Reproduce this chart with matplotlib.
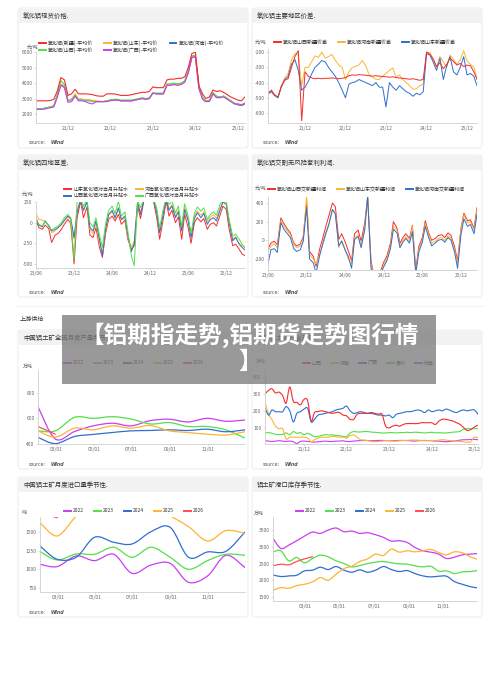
import numpy as np
import pandas as pd
import matplotlib
matplotlib.use('Agg')
import matplotlib.pyplot as plt
import matplotlib.dates as mdates
from matplotlib.patches import FancyBboxPatch, Rectangle, PathPatch
from matplotlib.path import Path
from matplotlib.lines import Line2D

plt.rcParams['font.family'] = ['Noto Sans CJK SC', 'DejaVu Sans']
plt.rcParams['axes.unicode_minus'] = False

# ── 1. 氧化铝现货价格 (monthly, 2021-03 .. 2026-02) ─────────────
price_xinjiang = [2850, 2850, 2850, 2850, 2870, 2950, 3500, 4350, 4200, 3200,
                  3300, 3600, 3300, 3300, 3300, 3280, 3250, 3180, 3150, 3150, 3300, 3300,
                  3300, 3250, 3200, 3200, 3200, 3250, 3300, 3350, 3400, 3400, 3450, 3750,
                  3700, 3700, 3700, 4200, 4250, 4250, 4300, 4300, 4400, 5000, 5900, 6000,
                  3800, 3300, 3000, 3100, 3550, 3450, 3500, 3400, 3250, 3100, 3000, 2900,
                  2850, 3100]
price_shandong = [2350, 2350, 2350, 2400, 2450, 2500, 3200, 3950, 3800, 2900,
                  2950, 3300, 2950, 2950, 2900, 2900, 2880, 2850, 2820, 2800, 2850, 2900,
                  2900, 2900, 2850, 2850, 2850, 2850, 2900, 2950, 3000, 2950, 3000, 3350,
                  3300, 3300, 3300, 3900, 3900, 3950, 3900, 3950, 4100, 4700, 5700, 5750,
                  3700, 3000, 2800, 2850, 3300, 3150, 3100, 3150, 3000, 2850, 2700, 2600,
                  2550, 2650]
price_henan = [2330, 2330, 2350, 2400, 2450, 2500, 3200, 3900, 3750, 2850,
               2950, 3250, 2950, 2950, 2900, 2900, 2850, 2800, 2800, 2800, 2850, 2900,
               2900, 2900, 2850, 2850, 2850, 2850, 2900, 2950, 3000, 2950, 3000, 3350,
               3300, 3300, 3300, 3900, 3900, 3900, 3900, 3950, 4100, 4700, 5650, 5700,
               3750, 3000, 2800, 2850, 3300, 3100, 3100, 3150, 3000, 2850, 2700, 2650,
               2600, 2700]
price_shanxi = [2350, 2350, 2350, 2400, 2450, 2550, 3300, 4150, 3900, 2850,
                2900, 3200, 2900, 2900, 2850, 2850, 2800, 2800, 2800, 2800, 2850, 2900,
                2950, 2950, 2900, 2900, 2900, 2900, 2950, 3000, 3050, 3000, 3050, 3350,
                3350, 3350, 3350, 3950, 3950, 4000, 3950, 4000, 4150, 4750, 5750, 5800,
                3800, 3100, 2850, 2900, 3400, 3150, 3100, 3150, 3000, 2850, 2700, 2600,
                2550, 2700]
price_guangxi = [2300, 2300, 2300, 2350, 2400, 2450, 3100, 3850, 3700, 2750,
                 2800, 3150, 2850, 2850, 2800, 2700, 2650, 2800, 2800, 2800, 2800, 2850,
                 2900, 2900, 2850, 2850, 2850, 2850, 2900, 2950, 3000, 2950, 3000, 3350,
                 3300, 3300, 3300, 3850, 3850, 3900, 3850, 3900, 4050, 4650, 5650, 5700,
                 3600, 2950, 2800, 2800, 3300, 3050, 3050, 3100, 2950, 2800, 2650, 2600,
                 2550, 2650]

# ── 2. 氧化铝主要地区价差 (monthly, 2021-01 .. 2026-03) ──────────
spread_shanxi = [-470, -450, -480, -495, -425, -385, -375, -300, -230, -190,
                 -650, -330, -360, -370, -375, -372, -375, -372, -372, -370,
                 -372, -375, -372, -368, -355, -350, -352, -348, -350, -352,
                 -355, -358, -355, -358, -360, -362, -365, -362, -368, -370,
                 -372, -375, -378, -375, -380, -385, -380, -200, -215, -250,
                 -295, -270, -310, -280, -240, -262, -285, -275, -295, -285,
                 -290, -330, -380]
spread_henan = [-470, -455, -480, -495, -420, -370, -340, -250, -210, -220,
                -420, -300, -300, -260, -225, -235, -200, -240, -230, -215,
                -255, -285, -300, -380, -330, -300, -295, -285, -255, -290,
                -345, -365, -378, -380, -360, -340, -320, -305, -365, -350,
                -380, -400, -420, -445, -440, -420, -410, -200, -205, -245,
                -300, -230, -265, -300, -220, -250, -280, -250, -190, -260,
                -280, -300, -370]
spread_shandong = [-475, -460, -485, -500, -430, -380, -360, -280, -250, -320,
                   -450, -430, -390, -340, -300, -280, -255, -265, -300, -330,
                   -360, -400, -450, -500, -410, -400, -395, -380, -390, -400,
                   -410, -420, -400, -430, -430, -560, -400, -430, -450, -420,
                   -440, -460, -470, -490, -470, -480, -460, -210, -220, -270,
                   -320, -240, -380, -290, -230, -330, -350, -300, -230, -350,
                   -340, -360, -420]

# ── 3. 氧化铝四地基差 (semi-monthly, 2023-06 .. 2026-03) ────────
basis_shandong = [30, -60, -80, -30, -70, -240, -150, -130, -80, -20,
                  40, -10, -500, 50, 260, 60, 190, -150, -180, -60,
                  -300, -420, -120, 40, 80, 20, 100, -20, 30, -200,
                  -320, -280, 200, 50, 270, 260, 290, 280, 60, -200,
                  40, 260, 80, 150, 0, 70, -200, 100, -60, -250,
                  0, 60, 10, 50, -80, -20, 0, -40, 90, 200,
                  160, -80, -280, -260, -320, -380, -400]
basis_henan = [110, 40, 30, 20, -30, -120, -100, -60, -30, 20,
               70, 40, -200, 150, 270, 140, 270, -80, -130, 0,
               -230, -380, -80, 90, 130, 50, 170, 30, 60, -180,
               -300, -220, 260, 120, 290, 280, 300, 300, 140, -130,
               110, 290, 170, 220, 80, 150, -90, 180, 40, -170,
               80, 140, 90, 130, 10, 70, 100, 50, 170, 260,
               230, 20, -200, -170, -250, -280, -300]
basis_shanxi = [50, -30, -50, 20, -40, -100, -80, -60, -20, 30,
                80, 50, -180, 120, 280, 150, 250, -60, -100, 20,
                -200, -400, -60, 100, 150, 60, 180, 40, 80, -150,
                -350, -250, 250, 100, 280, 270, 300, 290, 120, -120,
                100, 280, 150, 200, 60, 130, -100, 160, 20, -180,
                50, 120, 60, 110, -20, 40, 60, 20, 150, 250,
                220, 0, -220, -180, -260, -300, -330]
basis_guangxi = [60, -20, -40, 10, -30, -90, -60, -40, 0, 60,
                 100, 60, -450, 250, 290, 200, 280, 0, -50, 60,
                 -150, -300, 0, 150, 200, 110, 260, 80, 130, -100,
                 -400, -520, 270, 180, 300, 290, 300, 300, 180, -60,
                 160, 300, 220, 260, 120, 200, -40, 230, 80, -130,
                 110, 190, 140, 180, 40, 100, 130, 90, 220, 280,
                 260, 30, -160, -140, -200, -260, -300]

# ── 4. 氧化铝交割无风险套利利润 (semi-monthly, 2023-06 ..) ───────
arb_shanxi = [-90, -30, -10, -50, 240, 180, 120, 80, -30, -60,
              -40, 40, 420, -120, -170, -280, -90, 20, 150, 260,
              400, 360, 10, 70, -20, -110, -220, 70, 110, -10,
              180, 460, -220, -380, -360, -330, -230, -170, -30, 200,
              130, -30, 30, 70, 20, 160, -320, -70, 30, 210,
              80, 0, 20, 50, 60, 30, 80, 50, -70, -220,
              130, 290, 210, 220, 130, 350]
arb_shandong = [-120, -60, -40, -80, 210, 150, 100, 60, -50, -80,
                -60, 20, 480, -150, -200, -250, -150, -50, 60, 160,
                330, 300, -80, 0, -100, -200, -250, 20, 60, -60,
                130, 480, -250, -400, -380, -350, -260, -200, -60, 150,
                110, -60, 0, 40, -10, 150, -350, -100, 0, 180,
                60, -30, -10, 20, 30, 0, 50, 20, -100, -250,
                120, 270, 190, 200, 110, 320]
arb_henan = [-250, -100, -90, -130, 190, 120, 70, 30, -90, -120,
             -100, -10, 350, -200, -240, -350, -160, -40, 80, 170,
             330, 280, -60, -10, -110, -170, -300, 10, 40, -80,
             110, 470, -300, -400, -390, -360, -280, -220, -90, 120,
             80, -80, -20, 20, -30, 90, -360, -130, -20, 150,
             30, -60, -30, 0, 10, -20, 30, 0, -130, -300,
             60, 230, 150, 170, 70, 280]

# ── 5. 中国铝土矿全国月度产量季节性 (万吨, month ends) ────────────
prod_2022 = [692, 439, 498, 542, 563, 542, 583, 594, 573, 601, 578, 588]
prod_2023 = [503, 503, 609, 601, 614, 596, 557, 568, 537, 537, 511, 446]
prod_2024 = [452, 403, 459, 475, 490, 503, 506, 511, 506, 516, 496, 511]
prod_2025 = [503, 454, 524, 511, 542, 524, 545, 503, 490, 477, 470, 496]
prod_2026 = [537, 477]

# ── 6. 分省产量 (万吨, monthly 2021-01 .. 2026-01) ──────────────
ore_shanxi = [300, 320, 330, 305, 310, 290, 245, 340, 255, 250,
              235, 267, 260, 140, 190, 195, 200, 195, 190, 185,
              190, 190, 175, 170, 150, 150, 180, 185, 185, 185,
              190, 185, 180, 180, 110, 100, 110, 115, 110, 120,
              125, 125, 125, 125, 130, 130, 130, 130, 120, 140,
              150, 150, 145, 140, 130, 120, 100, 85, 90, 105,
              115]
ore_henan = [250, 180, 150, 110, 95, 95, 35, 45, 45, 45,
             45, 45, 40, 18, 30, 40, 45, 45, 45, 50,
             48, 45, 45, 40, 55, 58, 45, 30, 28, 25,
             20, 18, 20, 22, 25, 25, 22, 22, 24, 25,
             26, 28, 28, 28, 26, 24, 25, 26, 25, 28,
             30, 28, 25, 24, 22, 20, 18, 15, 20, 45,
             40]
ore_guangxi = [215, 175, 205, 195, 195, 195, 225, 200, 135, 185,
               195, 210, 215, 135, 150, 175, 180, 185, 190, 195,
               205, 210, 215, 228, 200, 185, 190, 195, 190, 185,
               185, 180, 175, 175, 170, 175, 160, 180, 185, 190,
               195, 195, 200, 205, 200, 190, 205, 195, 200, 205,
               200, 210, 205, 195, 190, 200, 205, 200, 205, 205,
               180]
ore_guizhou = [70, 72, 68, 62, 60, 62, 70, 60, 78, 68,
               72, 60, 68, 58, 48, 50, 55, 60, 58, 58,
               56, 54, 50, 48, 70, 78, 76, 76, 78, 78,
               75, 74, 72, 70, 70, 72, 72, 70, 72, 72,
               74, 72, 74, 74, 72, 70, 72, 74, 70, 72,
               70, 70, 72, 75, 76, 80, 92, 95, 95, 95,
               95]
ore_yunnan = [25, 22, 20, 22, 24, 22, 20, 22, 18, 8,
              20, 22, 20, 18, 16, 18, 20, 22, 20, 20,
              22, 22, 24, 20, 20, 22, 24, 25, 26, 25,
              24, 25, 26, 26, 25, 24, 24, 25, 26, 26,
              25, 24, 22, 24, 25, 26, 25, 24, 22, 22,
              20, 18, 20, 22, 24, 28, 30, 30, 32, 32,
              30]

# ── 7. 中国铝土矿月度进口量季节性 ──────────────────────────────
imp_2022 = [1067, 1036, 1179, 1116, 1201, 946, 1058, 1080, 826, 911, 1187, 1022]
imp_2023 = [1237, 1125, 1205, 1201, 1295, 1161, 1295, 1161, 1000, 1116, 1201, 1187]
imp_2024 = [1312, 1134, 1161, 1429, 1362, 1339, 1504, 1562, 1161, 1232, 1241, 1500]
imp_2025 = [1625, 1446, 1710, 1900, 1950, 1950, 1900, 1720, 1571, 1379, 1518, 1482]
imp_2026 = [1760, 1690]

# ── 8. 铝土矿港口库存季节性 (万吨, every two weeks) ──────────────
inv_2022 = [3250, 2950, 3050, 3180, 3320, 3440, 3400, 3500, 3560, 3450, 3470, 3400, 3420, 3360,
            3280, 3170, 3180, 3130, 2980, 2880, 2840, 2780, 2650, 2690, 2760, 2780, 2800]
inv_2023 = [2850, 2880, 2580, 2680, 2520, 2650, 2750, 2700, 2580, 2500, 2400, 2440, 2500, 2540,
            2560, 2520, 2490, 2480, 2430, 2400, 2420, 2270, 2280, 2200, 2250, 2260, 2290]
inv_2024 = [2160, 2110, 2130, 2150, 2280, 2300, 2390, 2320, 2410, 2300, 2240, 2310, 2240, 2300,
            2410, 2320, 2260, 2290, 2200, 2130, 2100, 2120, 2120, 1960, 1880, 1810, 1770]
inv_2025 = [1700, 1780, 1760, 1840, 1880, 1950, 2080, 2000, 2180, 2350, 2420, 2560, 2640, 2780,
            2740, 2930, 2840, 2880, 2850, 2880, 2920, 2830, 2760, 2850, 2820, 2700, 2620]
inv_2026 = [2430, 2480, 2460, 2560, 2640, 2700]

year_labels = ['2022', '2023', '2024', '2025', '2026']
year_ticks = ['2001-03-01', '2001-05-01', '2001-07-01', '2001-09-01', '2001-11-01']
year_tick_labels = ['03/01', '05/01', '07/01', '09/01', '11/01']

RED = '#f62b2b'
ORANGE = '#fbb533'
BLUE = '#2e6fd0'
GREEN = '#52e048'
PURPLE = '#cc3cf4'
year_colors = [PURPLE, GREEN, BLUE, ORANGE, '#ff4f4f']

W, H = 500, 700
fig = plt.figure(figsize=(5, 7), dpi=100, facecolor='white')


def fx(px):
  return px / W


def fy(py):
  return 1 - py / H


def dnum(start, n, freq):
  return mdates.date2num(pd.date_range(start, periods=n, freq=freq))


def add_card(x0, y0, x1, y1, title, source=True):
  card = FancyBboxPatch((fx(x0), fy(y1)), (x1 - x0) / W, (y1 - y0) / H,
                        boxstyle='round,pad=0,rounding_size=0.006', mutation_aspect=W / H,
                        transform=fig.transFigure, facecolor='white', edgecolor='#e9e9e9',
                        lw=0.6, zorder=-2)
  fig.add_artist(card)
  header = Rectangle((fx(x0 + 0.5), fy(y0 + 15)), (x1 - x0 - 1) / W, 14.5 / H,
                     transform=fig.transFigure, facecolor='#f2f2f2', edgecolor='none', zorder=-1)
  fig.add_artist(header)
  fig.text(fx(x0 + 5), fy(y0 + 8), title, fontsize=4.6, color='#333333', va='center')
  if source:
    fig.text(fx(x0 + 11), fy(y1 - 5), 'source:', fontsize=3.4, color='#555555', va='center',
             family='DejaVu Sans')
    fig.text(fx(x0 + 32), fy(y1 - 5), 'Wind', fontsize=3.4, color='#555555', va='center',
             family='DejaVu Sans', style='italic', weight='bold')


def make_axes(x0, y0, x1, y1, ylim, yticks, unit, unit_xy):
  ax = fig.add_axes([fx(x0), fy(y1), (x1 - x0) / W, (y1 - y0) / H])
  ax.patch.set_visible(False)
  for side in ['top', 'right']:
    ax.spines[side].set_visible(False)
  for side in ['left', 'bottom']:
    ax.spines[side].set_color('#cfcfcf')
    ax.spines[side].set_linewidth(0.6)
  ax.tick_params(labelsize=3.5, colors='#cfcfcf', labelcolor='#666666', length=1.5, width=0.5, pad=1.0)
  ax.set_ylim(*ylim)
  ax.set_yticks(yticks)
  fig.text(fx(unit_xy[0]), fy(unit_xy[1]), unit, fontsize=3.5, color='#555555', va='center')
  return ax


def set_date_ticks(ax, dates, labels):
  ax.set_xticks(mdates.date2num(pd.to_datetime(dates)))
  ax.set_xticklabels(labels)


def add_legend(ax, labels, colors, x, y, ncol, colspace):
  handles = [Line2D([], [], color=c, lw=1.4) for c in colors]
  leg = ax.legend(handles, labels, loc='upper left', bbox_to_anchor=(fx(x), fy(y)),
                  bbox_transform=fig.transFigure, ncol=ncol, frameon=False, fontsize=3.6,
                  handlelength=1.3, handletextpad=0.5, columnspacing=colspace,
                  borderpad=0, borderaxespad=0, labelspacing=0.25)
  for t in leg.get_texts():
    t.set_color('#333333')


def smooth_line(ax, x, y, color, lw=0.9):
  # cubic bezier through the points, the way the source chart smooths its lines
  x = np.asarray(x, float)
  y = np.asarray(y, float)
  n = len(x)
  verts = [(x[0], y[0])]
  codes = [Path.MOVETO]
  for i in range(n - 1):
    a = i - 1 if i > 0 else i
    b = i + 2 if i + 2 < n else i + 1
    c1 = (x[i] + (x[i + 1] - x[a]) / 6, y[i] + (y[i + 1] - y[a]) / 6)
    c2 = (x[i + 1] - (x[b] - x[i]) / 6, y[i + 1] - (y[b] - y[i]) / 6)
    verts += [c1, c2, (x[i + 1], y[i + 1])]
    codes += [Path.CURVE4] * 3
  ax.add_patch(PathPatch(Path(verts, codes), fill=False, edgecolor=color, lw=lw,
                         capstyle='round', joinstyle='round'))


# ════════════════════════════════════════════════════════════
# cards
# ════════════════════════════════════════════════════════════
add_card(18, 8, 248, 148, '氧化铝现货价格.')
add_card(252, 8, 482, 148, '氧化铝主要地区价差.')
add_card(18, 155, 248, 297, '氧化铝四地基差.')
add_card(252, 155, 482, 297, '氧化铝交割无风险套利利润.')
add_card(18, 330, 248, 469, '中国铝土矿全国月度产量季节性.')
add_card(252, 330, 482, 469, '中国铝土矿分省产量.')
add_card(18, 477, 248, 617, '中国铝土矿月度进口量季节性.')
add_card(252, 477, 482, 617, '铝土矿港口库存季节性.', source=False)

fig.add_artist(Line2D([fx(16), fx(484)], [fy(306), fy(306)], transform=fig.transFigure,
                      color='#dddddd', lw=0.6, ls=(0, (1, 1.5))))
fig.text(fx(20), fy(319), '上游供给', fontsize=4.4, color='#333333', va='center')

# ── panel 1 ──
ax1 = make_axes(36, 52, 245, 123, (1420, 6000), [2000, 3000, 4000, 5000, 6000], '元/吨', (27, 47))
x1 = dnum('2021-03-01', len(price_xinjiang), 'MS')
for vals, c in [(price_henan, BLUE), (price_shandong, ORANGE), (price_shanxi, GREEN),
                (price_guangxi, PURPLE), (price_xinjiang, RED)]:
  ax1.plot(x1, vals, color=c, lw=0.8)
ax1.set_xlim(x1[0], x1[-1])
set_date_ticks(ax1, ['2021-12-01', '2022-12-01', '2023-12-01', '2024-12-01', '2025-12-01'],
               ['21/12', '22/12', '23/12', '24/12', '25/12'])
add_legend(ax1, ['氧化铝(新疆)-平均价', '氧化铝(山西)-平均价', '氧化铝(山东)-平均价',
                 '氧化铝(广西)-平均价', '氧化铝(河南)-平均价'],
           [RED, GREEN, ORANGE, PURPLE, BLUE], 39, 40.5, 3, 2.2)

# ── panel 2 ──
ax2 = make_axes(268, 49, 477, 123, (-665, -180), [-600, -500, -400, -300, -200], '元/吨', (255, 42))
x2 = dnum('2021-01-01', len(spread_shanxi), 'MS')
for vals, c in [(spread_henan, ORANGE), (spread_shandong, BLUE), (spread_shanxi, RED)]:
  ax2.plot(x2, vals, color=c, lw=0.7)
ax2.set_xlim(x2[0], x2[-1])
set_date_ticks(ax2, ['2021-12-01', '2022-12-01', '2023-12-01', '2024-12-01', '2025-12-01'],
               ['21/12', '22/12', '23/12', '24/12', '25/12'])
add_legend(ax2, ['氧化铝山西新疆价差', '氧化铝河南新疆价差', '氧化铝山东新疆价差'],
           [RED, ORANGE, BLUE], 274, 39.5, 3, 2.0)

# ── panel 3 ──
ax3 = make_axes(36, 202, 245, 268, (-548, 250), [-500, -250, 0, 250], '元/吨', (22, 194))
x3 = dnum('2023-06-01', len(basis_shandong), 'SMS')
for vals, c in [(basis_shandong, RED), (basis_henan, ORANGE), (basis_shanxi, BLUE), (basis_guangxi, GREEN)]:
  ax3.plot(x3, vals, color=c, lw=0.7)
ax3.set_xlim(x3[0], x3[-1])
half_ticks = ['2023-06-01', '2023-12-01', '2024-06-01', '2024-12-01', '2025-06-01', '2025-12-01']
half_labels = ['23/06', '23/12', '24/06', '24/12', '25/06', '25/12']
set_date_ticks(ax3, half_ticks, half_labels)
add_legend(ax3, ['山东氧化铝对当月升贴水', '山西氧化铝对当月升贴水', '河南氧化铝对当月升贴水',
                 '广西氧化铝对当月升贴水'], [RED, BLUE, ORANGE, GREEN], 64, 187, 2, 1.6)

# ── panel 4 ──
ax4 = make_axes(268, 197, 477, 270, (-318, 464), [-200, 0, 200, 400], '元/吨', (255, 188))
x4 = dnum('2023-06-01', len(arb_shanxi), 'SMS')
for vals, c in [(arb_shanxi, RED), (arb_shandong, ORANGE), (arb_henan, BLUE)]:
  ax4.plot(x4, vals, color=c, lw=0.7)
ax4.set_xlim(x4[0], x4[-1])
set_date_ticks(ax4, half_ticks, half_labels)
add_legend(ax4, ['氧化铝山西交新疆利润', '氧化铝山东交新疆利润', '氧化铝河南交新疆利润'],
           [RED, ORANGE, BLUE], 268, 187, 3, 2.0)

# ── panel 5 ──
ax5 = make_axes(38, 370, 245, 444, (400, 980), [400, 600, 800], '万吨', (23, 366))
month_x = dnum('2001-01-31', 12, 'ME')
for vals, c in zip([prod_2022, prod_2023, prod_2024, prod_2025, prod_2026], year_colors):
  smooth_line(ax5, month_x[:len(vals)], vals, c)
ax5.set_xlim(month_x[0], month_x[-1])
set_date_ticks(ax5, year_ticks, year_tick_labels)
add_legend(ax5, year_labels, year_colors, 64, 360.5, 5, 2.0)

# ── panel 6 ──
ax6 = make_axes(265, 370, 478, 444, (5, 440), [100, 200, 300, 400], '万吨', (256, 361))
x6 = dnum('2021-01-01', len(ore_shanxi), 'MS')
for vals, c in [(ore_yunnan, PURPLE), (ore_guizhou, GREEN), (ore_henan, ORANGE),
                (ore_guangxi, BLUE), (ore_shanxi, RED)]:
  smooth_line(ax6, x6, vals, c, lw=0.8)
ax6.set_xlim(x6[0], x6[-1])
set_date_ticks(ax6, ['2021-12-01', '2022-12-01', '2023-12-01', '2024-12-01', '2025-12-01'],
               ['21/12', '22/12', '23/12', '24/12', '25/12'])
add_legend(ax6, ['山西', '河南', '广西', '贵州', '云南'], [RED, ORANGE, BLUE, GREEN, PURPLE],
           303, 360.5, 5, 1.8)

# ── panel 7 ──
ax7 = make_axes(40, 517, 245, 592, (696, 1700), [750, 1000, 1250, 1500], '吨', (22, 513))
for vals, c in zip([imp_2022, imp_2023, imp_2024, imp_2025, imp_2026], year_colors):
  smooth_line(ax7, month_x[:len(vals)], vals, c)
ax7.set_xlim(month_x[0], month_x[-1])
set_date_ticks(ax7, year_ticks, year_tick_labels)
add_legend(ax7, year_labels, year_colors, 64, 508.5, 5, 2.0)

# ── panel 8 ──
ax8 = make_axes(273, 517, 477, 601, (1380, 3890), [1500, 2000, 2500, 3000, 3500], '万吨', (254, 513))
week_x = dnum('2001-01-03', len(inv_2022), '14D')
for vals, c in zip([inv_2022, inv_2023, inv_2024, inv_2025, inv_2026], year_colors):
  smooth_line(ax8, week_x[:len(vals)], vals, c)
ax8.set_xlim(week_x[0], mdates.date2num(pd.Timestamp('2001-12-31')))
set_date_ticks(ax8, year_ticks, year_tick_labels)
add_legend(ax8, year_labels, year_colors, 296, 508.5, 5, 2.0)

# ════════════════════════════════════════════════════════════
# title banner laid over the page
# ════════════════════════════════════════════════════════════
fig.add_artist(Rectangle((fx(62), fy(384)), (436 - 62) / W, (384 - 315) / H, transform=fig.transFigure,
                         facecolor='#7d7d7d', edgecolor='none', alpha=0.78, zorder=10))
fig.text(fx(250), fy(335), '【铝期指走势,铝期货走势图行情', fontsize=17, weight='bold', color='white',
         ha='center', va='center', zorder=11, family=['Noto Sans CJK SC', 'DejaVu Sans'])
fig.text(fx(250), fy(362), '】', fontsize=17, weight='bold', color='white',
         ha='center', va='center', zorder=11, family=['Noto Sans CJK SC', 'DejaVu Sans'])

fig.savefig('out.png', dpi=100, facecolor='white')
